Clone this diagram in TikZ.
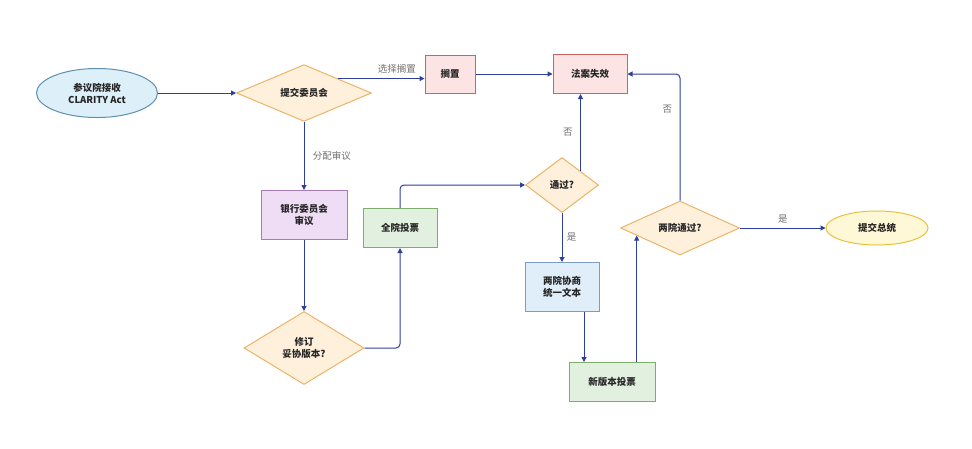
\documentclass[tikz,border=0pt]{standalone}
\usepackage{fontspec}
\setmainfont{Noto Sans CJK SC}
\usetikzlibrary{shapes.geometric,arrows.meta}

\definecolor{flowc}{HTML}{2E3F9E}
\definecolor{lblc}{HTML}{707070}
\definecolor{startfill}{HTML}{DDEFF8}
\definecolor{startline}{HTML}{5E90B0}
\definecolor{decfill}{HTML}{FFF0DC}
\definecolor{decline}{HTML}{EBB466}
\definecolor{voidfill}{HTML}{FCE4E4}
\definecolor{voidline}{HTML}{C86464}
\definecolor{bankfill}{HTML}{EFDCF5}
\definecolor{bankline}{HTML}{A57BB8}
\definecolor{votefill}{HTML}{E2F0DF}
\definecolor{voteline}{HTML}{7EAD6C}
\definecolor{negfill}{HTML}{E0EEF9}
\definecolor{negline}{HTML}{7A9CC6}
\definecolor{presfill}{HTML}{FFF8D6}
\definecolor{presline}{HTML}{E8C23A}

\begin{document}
\begin{tikzpicture}[x=1pt,y=-1pt,
    txt/.style={font=\bfseries\fontsize{9.5}{12}\selectfont, text=black!85, align=center, inner sep=0pt},
    proc/.style={txt, rectangle, draw, line width=1pt},
    decide/.style={txt, diamond, draw=decline, fill=decfill, line width=1pt},
    term/.style={txt, ellipse, draw, line width=1pt},
    flow/.style={-{Triangle[length=5pt,width=5pt]}, line width=1pt, draw=flowc, rounded corners=4pt},
    lbl/.style={font=\fontsize{9.5}{12}\selectfont, text=lblc}]
    \fill[white] (0,0) rectangle (972,448);
    \useasboundingbox (0,0) rectangle (972,448);
    % nodes
    \node[term, fill=startfill, draw=startline, minimum width=121pt, minimum height=49pt] (senate) at (97,93) {参议院接收\\CLARITY Act};
    \node[decide, minimum width=135pt, minimum height=55pt] (commit) at (304,93) {提交委员会};
    \node[proc, fill=voidfill, draw=voidline, minimum width=50pt, minimum height=38pt] (shelve) at (450,74) {搁置};
    \node[proc, fill=voidfill, draw=voidline, minimum width=74pt, minimum height=39pt] (void) at (590,74) {法案失效};
    \node[proc, fill=bankfill, draw=bankline, minimum width=86pt, minimum height=49pt] (bank) at (304,215) {银行委员会\\审议};
    \node[proc, fill=votefill, draw=voteline, minimum width=74pt, minimum height=39pt] (vote) at (400,228) {全院投票};
    \node[decide, minimum width=120pt, minimum height=73pt] (amend) at (304,348) {修订\\妥协版本?};
    \node[decide, minimum width=73pt, minimum height=55pt] (pass) at (562,185) {通过?};
    \node[proc, fill=negfill, draw=negline, minimum width=74pt, minimum height=49pt] (negot) at (562,287) {两院协商\\统一文本};
    \node[proc, fill=votefill, draw=voteline, minimum width=86pt, minimum height=39pt] (newvote) at (612,382) {新版本投票};
    \node[decide, minimum width=119pt, minimum height=54pt] (both) at (680,228) {两院通过?};
    \node[term, fill=presfill, draw=presline, minimum width=102pt, minimum height=34pt] (pres) at (877,228) {提交总统};
    % connectors
    \draw[flow] (senate) -- (commit);
    \draw[flow] (commit.north east) -- (commit.north east -| shelve.west) node[lbl, pos=0.68, above=1pt] {选择搁置};
    \draw[flow] (shelve) -- (void);
    \draw[flow] (commit) -- (bank) node[lbl, midway, right=5pt] {分配审议};
    \draw[flow] (bank) -- (amend);
    \draw[flow] (amend.east) -| (vote.south);
    \draw[flow] (vote.north) |- (pass.west);
    \draw[flow] (pass.north east) -- (pass.north east |- void.south) node[lbl, midway, left=4pt] {否};
    \draw[flow] (pass) -- (negot) node[lbl, midway, right=1pt] {是};
    \draw[flow] ([xshift=22pt]negot.south) -- ([xshift=22pt]negot.south |- newvote.north);
    \draw[flow] (both.190 |- newvote.north) -- (both.190);
    \draw[flow] (both.north) |- (void.east) node[lbl, pos=0.36, left=4pt] {否};
    \draw[flow] (both) -- (pres) node[lbl, midway, above=1pt] {是};
\end{tikzpicture}
\end{document}
